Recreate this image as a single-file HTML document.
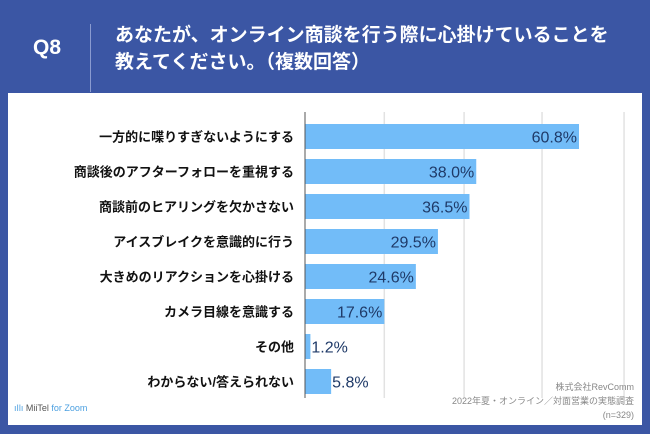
<!DOCTYPE html>
<html><head><meta charset="utf-8"><style>
body{margin:0;width:650px;height:434px;background:#3b56a4;font-family:"Liberation Sans","Noto Sans CJK JP",sans-serif;position:relative;overflow:hidden}
.abs{position:absolute}
</style></head><body>
<div class="abs" style="left:33px;top:36px;color:#fff;font-size:21px;font-weight:bold">Q8</div>
<div class="abs" style="left:90px;top:24px;width:1px;height:68px;background:#8a9bd0"></div>
<div class="abs" style="left:115px;top:22px;color:#fff;font-size:19px;font-weight:bold;line-height:27px;white-space:nowrap">あなたが、オンライン商談を行う際に心掛けていることを<br>教えてください。（複数回答）</div>
<div class="abs" style="left:8px;top:93px;width:634px;height:332px;background:#fff"></div>
<svg class="abs" style="left:0;top:0" width="650" height="434" id="chart"></svg>
<div class="abs" style="left:14px;top:403px;font-size:9px;color:#555"><span style="color:#4a9fe0">ıǀlı</span> MiiTel <span style="color:#4a9fe0">for Zoom</span></div>
<div class="abs" style="right:16px;top:380px;font-size:9px;color:#888;text-align:right;line-height:14px">株式会社RevComm<br>2022年夏・オンライン／対面営業の実態調査<br>(n=329)</div>
<script>
const categories=["一方的に喋りすぎないようにする","商談後のアフターフォローを重視する","商談前のヒアリングを欠かさない","アイスブレイクを意識的に行う","大きめのリアクションを心掛ける","カメラ目線を意識する","その他","わからない/答えられない"];
const values=[60.8,38.0,36.5,29.5,24.6,17.6,1.2,5.8];
const gridTicks=[17.6,35.3,52.6,70.8];
const svg=document.getElementById('chart');
const NS='http://www.w3.org/2000/svg';
const x0=305,pxPer=274/60.8,top0=124,step=35,bh=25;
const xs=v=>x0+v*pxPer;
function mk(t,a){const e=document.createElementNS(NS,t);for(const k in a)e.setAttribute(k,a[k]);svg.appendChild(e);return e;}
gridTicks.forEach(g=>{const l=mk('line',{x1:xs(g),x2:xs(g),y1:112,y2:398,stroke:'#e2e2e2','stroke-width':1.5});

});
categories.forEach((c,i)=>{
 const y=top0+i*step,v=values[i];
 const r=mk('rect',{x:x0,y:y,width:xs(v)-x0,height:bh,fill:'#72bcf8'});
 
 
 const t=mk('text',{x:294,y:y+bh/2+5,'text-anchor':'end','font-size':13,'font-weight':'bold',fill:'#111'});t.textContent=c;
 
 
 const big=v>10;
 const vt=mk('text',{x:big?xs(v)-2:xs(v)+1,y:y+bh/2+6,'text-anchor':big?'end':'start','font-size':16,fill:'#1f3a68'});vt.textContent=v.toFixed(1)+'%';
 
 
});
const ax=mk('line',{x1:x0,x2:x0,y1:112,y2:398,stroke:'#555','stroke-width':1});


</script>
</body></html>
